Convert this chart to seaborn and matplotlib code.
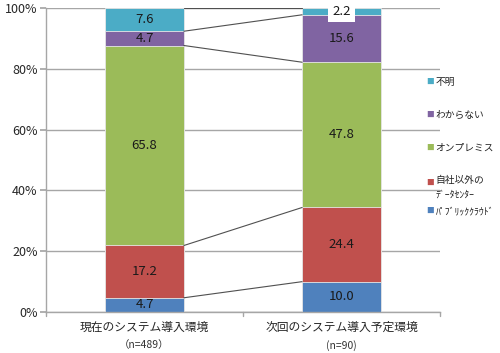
import numpy as np
import pandas as pd
import seaborn as sns
import matplotlib.pyplot as plt

# data (percent), bottom to top
categories = ["現在のシステム導入環境", "次回のシステム導入予定環境"]
sample_sizes = ["（n=489）", "(n=90)"]
segments = ["ﾊﾟﾌﾞﾘｯｸｸﾗｳﾄﾞ", "自社以外の\nﾃﾞｰﾀｾﾝﾀｰ", "オンプレミス", "わからない", "不明"]
current = [4.7, 17.2, 65.8, 4.7, 7.6]
planned = [10.0, 24.4, 47.8, 15.6, 2.2]
colors = ["#4f81bd", "#c0504d", "#9bbb59", "#8064a2", "#4bacc6"]

sns.set_theme(style="white")
plt.rcParams["font.family"] = ["Noto Sans CJK JP", "DejaVu Sans"]

vals = np.array([current, planned])
cum = vals.cumsum(axis=1)

fig = plt.figure(figsize=(5, 3.53), dpi=100)
ax = fig.add_axes([0.092, 0.116, 0.788, 0.861])

width = 0.4
# stacked bars: draw cumulative totals from the top segment down
for i in range(len(segments) - 1, -1, -1):
    df = pd.DataFrame({"cat": categories, "val": cum[:, i]})
    sns.barplot(data=df, x="cat", y="val", color=colors[i], width=width,
                saturation=1, edgecolor="#e8e8e8", linewidth=0.6, ax=ax,
                zorder=2)

# connector lines between bars
ax.plot([width / 2, 1 - width / 2], [0, 0], color="#505050", lw=0.8, zorder=3)
for i in range(len(segments)):
    ax.plot([width / 2, 1 - width / 2], [cum[0, i], cum[1, i]],
            color="#505050", lw=0.8, zorder=3)

# value labels
for j in range(len(categories)):
    for i in range(len(segments)):
        mid = cum[j, i] - vals[j, i] / 2
        kw = {}
        if vals[j, i] < 3:
            kw["bbox"] = dict(boxstyle="square,pad=0.3", fc="white", ec="none")
        ax.text(j, mid, f"{vals[j, i]:.1f}", ha="center", va="center",
                fontsize=9.5, color="#1a1a1a", zorder=4, **kw)

ax.set_xlim(-0.5, 1.5)
ax.set_ylim(0, 100)
ax.set_yticks(range(0, 101, 20))
ax.set_yticklabels([f"{v}%" for v in range(0, 101, 20)], fontsize=9)
ax.yaxis.grid(True, color="#a6a6a6", lw=1)
ax.set_axisbelow(True)
ax.set_xlabel("")
ax.set_ylabel("")
ax.set_xticks([0, 1])
ax.set_xticklabels(categories, fontsize=8.5)
ax.tick_params(axis="x", length=0, pad=6)
ax.tick_params(axis="y", length=4, color="#a6a6a6", left=True, pad=2)
for x in [-0.5, 0.5, 1.5]:
    ax.plot([x, x], [0, -1.3], color="#a6a6a6", lw=1, clip_on=False)
for j, n in enumerate(sample_sizes):
    ax.text(j, -0.11, n, transform=ax.get_xaxis_transform(), ha="center",
            va="center", fontsize=7.5, color="#333333")

for s in ["top", "right"]:
    ax.spines[s].set_visible(False)
for s in ["left", "bottom"]:
    ax.spines[s].set_color("#a6a6a6")
    ax.spines[s].set_linewidth(1)

# legend, top entry first
leg_y = [82, 115, 148, 183, 211]
for i, y in zip(range(len(segments) - 1, -1, -1), leg_y):
    fy = 1 - y / 353
    fig.text(0.852, fy, "■", color=colors[i], fontsize=5.5, ha="left", va="center")
    label = segments[i]
    va = "center"
    if "\n" in label:
        va = "top"
        fy += 0.022
    fig.text(0.871, fy, label, fontsize=7, ha="left", va=va,
             color="#222222", linespacing=1.6)

fig.savefig("out.png", dpi=100)
